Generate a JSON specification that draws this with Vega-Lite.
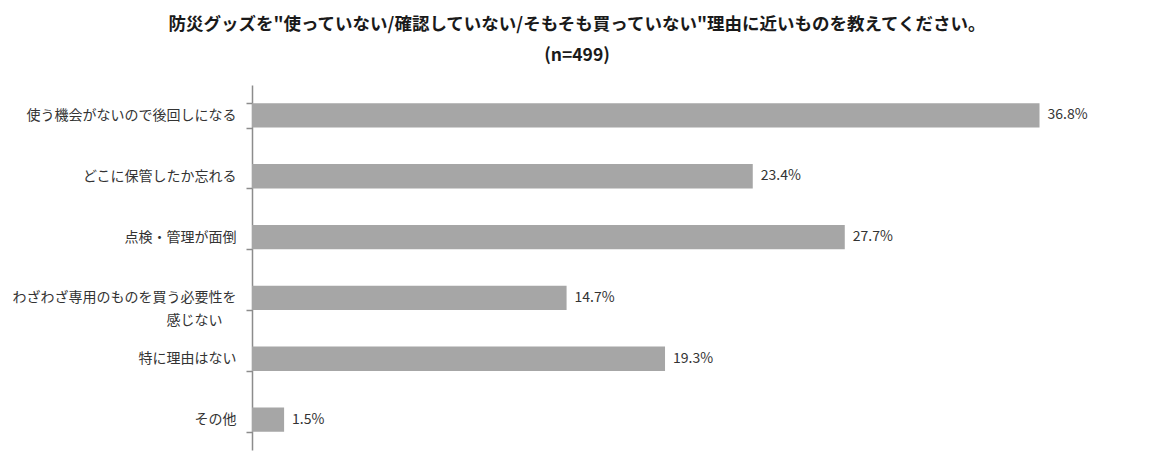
{
  "$schema": "https://vega.github.io/schema/vega-lite/v6.json",
  "width": 856,
  "height": 365,
  "padding": {"left": 12, "top": 15, "right": 10, "bottom": 10},
  "background": "white",
  "config": {"view": {"stroke": null}, "font": "Noto Sans CJK JP"},
  "title": {
    "text": ["防災グッズを\"使っていない/確認していない/そもそも買っていない\"理由に近いものを教えてください。", "(n=499)"],
    "font": "Noto Sans CJK JP",
    "fontSize": 17.5,
    "fontWeight": "bold",
    "color": "#1a1a1a",
    "lineHeight": 31,
    "anchor": "middle",
    "frame": "bounds",
    "offset": 14,
    "dx": 17
  },
  "data": {
    "values": [
      {"reason": "使う機会がないので後回しになる", "share": 0.368},
      {"reason": "どこに保管したか忘れる", "share": 0.234},
      {"reason": "点検・管理が面倒", "share": 0.277},
      {"reason": "わざわざ専用のものを買う必要性を|感じない\u3000\u200b", "share": 0.147},
      {"reason": "特に理由はない", "share": 0.193},
      {"reason": "その他", "share": 0.015}
    ]
  },
  "encoding": {
    "y": {
      "field": "reason",
      "type": "nominal",
      "sort": null,
      "title": null,
      "scale": {"paddingInner": 0.6, "paddingOuter": 0.3},
      "axis": {
        "labelExpr": "split(datum.label, '|')",
        "labelFont": "Noto Sans CJK JP",
        "labelFontSize": 14,
        "labelColor": "#333333",
        "labelLineHeight": 23,
        "labelPadding": 10,
        "labelLimit": 400,
        "ticks": true,
        "tickBand": "extent",
        "tickExtra": true,
        "tickSize": 6,
        "tickColor": "#8c8c8c",
        "tickWidth": 1.5,
        "domainColor": "#8c8c8c",
        "domainWidth": 1.5
      }
    },
    "x": {
      "field": "share",
      "type": "quantitative",
      "scale": {"domain": [0, 0.4]},
      "axis": null
    }
  },
  "layer": [
    {"mark": {"type": "bar", "color": "#a6a6a6"}},
    {
      "mark": {"type": "text", "align": "left", "dx": 8, "font": "Noto Sans CJK JP", "fontSize": 14, "color": "#333333"},
      "encoding": {"text": {"field": "share", "type": "quantitative", "format": ".1%"}}
    }
  ]
}
